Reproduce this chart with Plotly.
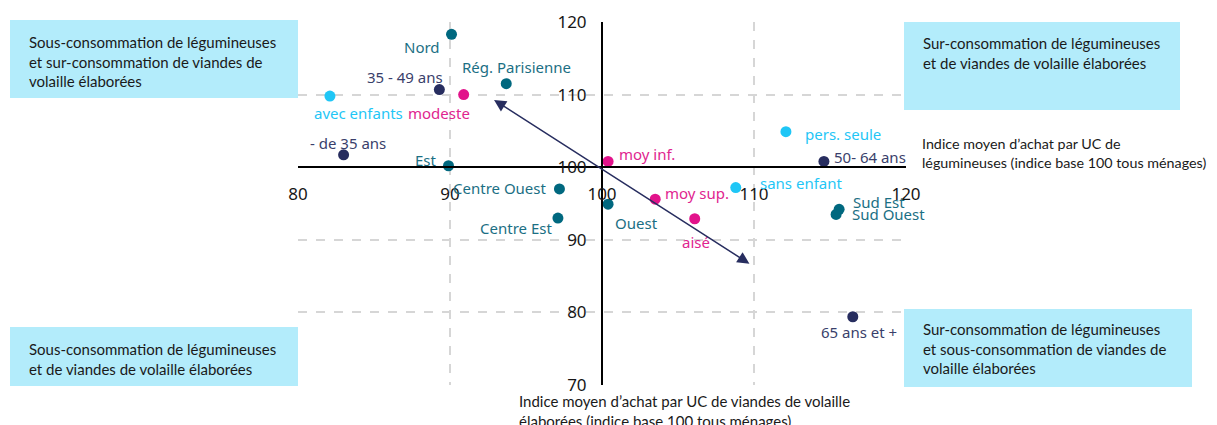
import plotly.graph_objects as go

# ---------------- data ----------------
region_labels = ["Nord", "Rég. Parisienne", "Est", "Centre Ouest", "Centre Est", "Ouest", "Sud Est", "Sud Ouest"]
region_leg = [90.1, 93.7, 89.9, 97.2, 97.1, 100.4, 115.6, 115.4]
region_vol = [118.3, 111.5, 100.2, 97.0, 93.0, 94.9, 94.2, 93.5]

age_labels = ["35 - 49 ans", "- de 35 ans", "50- 64 ans", "65 ans et +"]
age_leg = [89.3, 83.0, 114.6, 116.5]
age_vol = [110.7, 101.7, 100.8, 79.4]

menage_labels = ["avec enfants", "sans enfant", "pers. seule"]
menage_leg = [82.1, 108.8, 112.1]
menage_vol = [109.8, 97.2, 104.9]

revenu_labels = ["modeste", "moy inf.", "moy sup.", "aisé"]
revenu_leg = [90.9, 100.4, 103.5, 106.1]
revenu_vol = [110.0, 100.8, 95.6, 92.9]

arrow_leg = [92.8, 109.7]
arrow_vol = [109.4, 86.7]

x_ticks = [80, 90, 100, 110, 120]
y_ticks = [70, 80, 90, 100, 110, 120]

quadrant_texts = [
    "Sous-consommation de légumineuses<br>et sur-consommation de viandes de<br>volaille élaborées",
    "Sur-consommation de légumineuses<br>et de viandes de volaille élaborées",
    "Sous-consommation de légumineuses<br>et de viandes de volaille élaborées",
    "Sur-consommation de légumineuses<br>et sous-consommation de viandes de<br>volaille élaborées",
]
x_title = "Indice moyen d’achat par UC de<br>légumineuses (indice base 100 tous ménages)"
y_title = "Indice moyen d’achat par UC de viandes de volaille<br>élaborées (indice base 100 tous ménages)"

# ---------------- styles ----------------
NAVY = "#272d5f"
TEAL = "#00687f"
CYAN = "#1fc6f6"
MAGENTA = "#e2138b"
BOX = "#b3ecfb"
LABEL_FONT = "Noto Sans"
BOX_FONT = "Lato"

# label placement: (xanchor, xshift, yshift) in pixels
region_pos = [("right", -10, -13), ("center", 10, 17), ("right", -9, 6), ("right", -10, 1),
              ("right", -4, -10), ("left", 5, -19), ("left", 12, 7), ("left", 14, 0)]
age_pos = [("right", 6, 13), ("center", 4, 12), ("left", 8, 4), ("center", 6, -15)]
menage_pos = [("left", -18, -17), ("left", 22, 5), ("left", 17, -2)]
revenu_pos = [("right", 8, -18), ("left", 9, 7), ("left", 8, 6), ("center", 1, -23)]

# page has an 8px body margin: figure drawn 8px in from the window corner
OFF = 8
W, H = 1217 - OFF, 425 - OFF
L, T = 298 - OFF, 22 - OFF
R = W - (906 - OFF)
B = H - (385 - OFF)
PW, PH = W - L - R, H - T - B


def px(xp):
    """window pixel x -> paper x"""
    return (xp - OFF - L) / PW


def py(yp):
    """window pixel y -> paper y"""
    return (H - B - (yp - OFF)) / PH


fig = go.Figure()
annotations = []

groups = [
    (region_labels, region_leg, region_vol, TEAL, "#1b6f84", region_pos),
    (age_labels, age_leg, age_vol, NAVY, "#3a3f6b", age_pos),
    (menage_labels, menage_leg, menage_vol, CYAN, CYAN, menage_pos),
    (revenu_labels, revenu_leg, revenu_vol, MAGENTA, "#e0258f", revenu_pos),
]
for labs, xs, ys, col, tcol, pos in groups:
    fig.add_trace(go.Scatter(x=xs, y=ys, mode="markers",
                             marker=dict(color=col, size=11, line=dict(width=0)),
                             text=labs, hoverinfo="text", showlegend=False, cliponaxis=False))
    for lab, xv, yv, (anc, dx, dy) in zip(labs, xs, ys, pos):
        annotations.append(dict(x=xv, y=yv, xref="x", yref="y", text=lab, showarrow=False,
                                xanchor=anc, yanchor="middle", xshift=dx, yshift=dy,
                                font=dict(family=LABEL_FONT, size=15, color=tcol)))

# double arrow
annotations.append(dict(x=arrow_leg[1], y=arrow_vol[1], ax=arrow_leg[0], ay=arrow_vol[0],
                        xref="x", yref="y", axref="x", ayref="y", text="", showarrow=True,
                        arrowhead=2, arrowside="end+start", arrowsize=1.6, arrowwidth=1.5,
                        arrowcolor=NAVY, standoff=0, startstandoff=0))

# quadrant boxes (window pixel rectangles)
boxes = [(10, 20, 298, 98), (904, 22, 1180, 110), (10, 327, 298, 386), (904, 309, 1192, 387)]
text_tops = [31, 32, 338, 318]
shapes = []
for (x0, y0, x1, y1), txt, tt in zip(boxes, quadrant_texts, text_tops):
    shapes.append(dict(type="rect", xref="paper", yref="paper", x0=px(x0), x1=px(x1),
                       y0=py(y1), y1=py(y0), fillcolor=BOX, line=dict(width=0), layer="above"))
    annotations.append(dict(xref="paper", yref="paper", x=px(x0 + 17), y=py(tt), text=txt,
                            showarrow=False, xanchor="left", yanchor="top", align="left",
                            font=dict(family=BOX_FONT, size=15, color="#1a1a1a")))

# axis titles
annotations.append(dict(xref="paper", yref="paper", x=px(920), y=py(133), text=x_title,
                        showarrow=False, xanchor="left", yanchor="top", align="left",
                        font=dict(family=BOX_FONT, size=14.3, color="#1a1a1a")))
annotations.append(dict(xref="paper", yref="paper", x=px(517), y=py(390), text=y_title,
                        showarrow=False, xanchor="left", yanchor="top", align="left",
                        font=dict(family=BOX_FONT, size=15, color="#1a1a1a")))

grid = dict(showgrid=True, gridcolor="#d6d6d6", gridwidth=2, griddash="dash",
            zeroline=False, showline=True, linecolor="#000000", linewidth=2,
            ticks="", automargin=False,
            tickfont=dict(family=LABEL_FONT, size=17, color="#161616"))

fig.update_layout(
    width=W, height=H,
    margin=dict(l=L, r=R, t=T, b=B, pad=0, autoexpand=False),
    paper_bgcolor="white", plot_bgcolor="white",
    xaxis=dict(range=[80, 120], tickvals=x_ticks, anchor="free", position=0.6,
               ticklabelstandoff=11, **grid),
    yaxis=dict(range=[70, 120], tickvals=y_ticks, anchor="free", position=0.5,
               ticklabelstandoff=11, **grid),
    annotations=annotations, shapes=shapes,
    showlegend=False,
)

fig.write_html("out.html")
